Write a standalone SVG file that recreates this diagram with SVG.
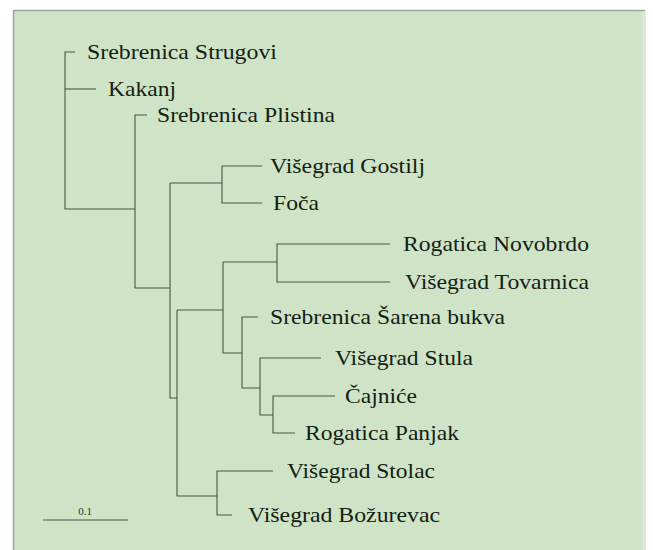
<svg xmlns="http://www.w3.org/2000/svg" width="653" height="550" viewBox="0 0 653 550">
<style>
.l{fill:none;stroke:#4a5748;stroke-width:1.1}
.t{font-size:22px;fill:#142014}
.s{font-size:11px;fill:#2a3429}
</style>
<rect x="0" y="0" width="653" height="550" fill="#ffffff"/>
<rect x="13.5" y="10.5" width="631" height="545" fill="#cfe4c6" stroke="#9aa698" stroke-width="1.5"/>
<line x1="644" y1="11" x2="644" y2="550" stroke="#dfe6dc" stroke-width="3"/>
<g id="connectors">
<path class="l" d="M75,52H65V209H135"/>
<path class="l" d="M65,89H96"/>
<path class="l" d="M147,115H135V288H170"/>
<path class="l" d="M170,183V398H177"/>
<path class="l" d="M170,183H222"/>
<path class="l" d="M262,166H222V203H262"/>
<path class="l" d="M177,310V496H217"/>
<path class="l" d="M177,310H223"/>
<path class="l" d="M223,262V353H242"/>
<path class="l" d="M223,262H277"/>
<path class="l" d="M390,244H277V282H390"/>
<path class="l" d="M258,317H242V388H260"/>
<path class="l" d="M321,358H260V415H273"/>
<path class="l" d="M335,396H273V433H295"/>
<path class="l" d="M273,471H217V515H232"/>
</g>
<g font-family="'Times New Roman', Tinos, 'Liberation Serif', 'Nimbus Roman', FreeSerif, 'DejaVu Serif', 'Noto Serif', serif">
<g id="n-strugovi"><text class="t" x="87" y="59" textLength="190" lengthAdjust="spacingAndGlyphs">Srebrenica Strugovi</text></g>
<g id="n-kakanj"><text class="t" x="108" y="96" textLength="68" lengthAdjust="spacingAndGlyphs">Kakanj</text></g>
<g id="n-plistina"><text class="t" x="157" y="122" textLength="178" lengthAdjust="spacingAndGlyphs">Srebrenica Plistina</text></g>
<g id="n-gostilj"><text class="t" x="270" y="173" textLength="155" lengthAdjust="spacingAndGlyphs">Višegrad Gostilj</text></g>
<g id="n-foca"><text class="t" x="273" y="210" textLength="46" lengthAdjust="spacingAndGlyphs">Foča</text></g>
<g id="n-novobrdo"><text class="t" x="403" y="251" textLength="186" lengthAdjust="spacingAndGlyphs">Rogatica Novobrdo</text></g>
<g id="n-tovarnica"><text class="t" x="405" y="289" textLength="184" lengthAdjust="spacingAndGlyphs">Višegrad Tovarnica</text></g>
<g id="n-sarena"><text class="t" x="270" y="324" textLength="235" lengthAdjust="spacingAndGlyphs">Srebrenica Šarena bukva</text></g>
<g id="n-stula"><text class="t" x="335" y="365" textLength="138" lengthAdjust="spacingAndGlyphs">Višegrad Stula</text></g>
<g id="n-cajnice"><text class="t" x="345" y="403" textLength="72" lengthAdjust="spacingAndGlyphs">Čajniće</text></g>
<g id="n-panjak"><text class="t" x="305" y="440" textLength="154" lengthAdjust="spacingAndGlyphs">Rogatica Panjak</text></g>
<g id="n-stolac"><text class="t" x="287" y="478" textLength="148" lengthAdjust="spacingAndGlyphs">Višegrad Stolac</text></g>
<g id="n-bozurevac"><text class="t" x="248" y="522" textLength="192" lengthAdjust="spacingAndGlyphs">Višegrad Božurevac</text></g>
<g id="scale">
<line class="l" x1="43" y1="520" x2="128" y2="520"/>
<text class="s" x="85" y="515" text-anchor="middle">0.1</text>
</g>
</g>
</svg>
